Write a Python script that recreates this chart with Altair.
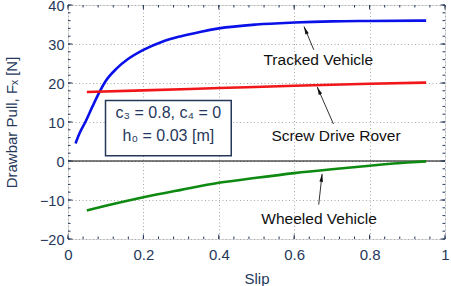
import math
import altair as alt
import pandas as pd

# ---- data -------------------------------------------------------------
slip_tracked = [0.02, 0.03, 0.046, 0.065, 0.084, 0.1, 0.13, 0.16, 0.2, 0.25,
                0.3, 0.35, 0.4, 0.5, 0.6, 0.7, 0.8, 0.95]
pull_tracked = [4.5, 7.0, 10.0, 14.0, 17.8, 20.5, 23.8, 26.2, 28.5, 30.6,
                32.0, 33.1, 34.0, 35.0, 35.5, 35.8, 35.9, 36.0]

slip_screw = [0.05, 0.2, 0.4, 0.6, 0.8, 0.95]
pull_screw = [17.7, 18.1, 18.7, 19.3, 19.8, 20.1]

slip_wheeled = [0.05, 0.1, 0.2, 0.3, 0.4, 0.5, 0.6, 0.7, 0.8, 0.9, 0.95]
pull_wheeled = [-12.7, -11.5, -9.3, -7.4, -5.6, -4.3, -3.1, -2.1, -1.2, -0.4, -0.1]

x_major = [0, 0.2, 0.4, 0.6, 0.8, 1.0]
x_minor = [round(i * 0.04, 2) for i in range(26)]
y_major = [-20, -10, 0, 10, 20, 30, 40]
y_minor = list(range(-20, 41, 2))

# annotation labels, their text anchor and arrow (tail -> tip)
ann_text = ["Tracked Vehicle", "Screw Drive Rover", "Wheeled Vehicle"]
ann_x = [0.664, 0.711, 0.666]
ann_y = [26.0, 6.3, -14.8]
arrow_x0 = [0.652, 0.704, 0.665]
arrow_y0 = [28.5, 9.5, -11.2]
arrow_x1 = [0.626, 0.661, 0.674]
arrow_y1 = [34.5, 19.0, -3.3]

# parameter box
box_x = [0.0995, 0.433]
box_y = [1.35, 15.5]
box_lines = ["c\u2083 = 0.8, c\u2084 = 0", "h\u2080 = 0.03 [m]"]
box_line_y = [12.2, 6.3]

# ---- layout / style ---------------------------------------------------
W, H = 377, 234
X_DOM = [0, 1]
Y_DOM = [-20, 40]
NAVY = "#26385a"
FONT = "Liberation Sans"

xs = alt.Scale(domain=X_DOM, nice=False, zero=False)
ys = alt.Scale(domain=Y_DOM, nice=False, zero=False)

x_axis = alt.Axis(
    values=x_major, format="~g", grid=True, gridDash=[1, 2.5], gridColor="#a8a8a8",
    gridWidth=1, ticks=False, domain=False, labelFlush=False, labelOverlap=False,
    labelFont=FONT, labelFontSize=15, labelColor=NAVY, labelPadding=8,
    title="Slip", titleFont=FONT, titleFontSize=15, titleFontWeight="normal",
    titleColor=NAVY, titleY=44, titleBaseline="alphabetic",
)
y_axis = alt.Axis(
    values=y_major, labelExpr="replace(format(datum.value, 'd'), '-', '\u2013')",
    grid=True, gridDash=[1, 2.5], gridColor="#a8a8a8",
    gridWidth=1, ticks=False, domain=False, labelFlush=False, labelOverlap=False,
    labelFont=FONT, labelFontSize=14.5, labelColor=NAVY, labelPadding=4,
    labelOffset=1.5,
    title="Drawbar Pull, F\u2093 [N]", titleFont=FONT, titleFontSize=15,
    titleFontWeight="normal", titleColor=NAVY, titleAngle=270,
    titleX=-52, titleY=H / 2, titleAlign="center", titleBaseline="alphabetic",
)


# every layer carries the same axis definition so the merged axes agree
def X(field):
    return alt.X(field, scale=xs, axis=x_axis)


def Y(field):
    return alt.Y(field, scale=ys, axis=y_axis)


curves = pd.DataFrame(
    [dict(s=s, f=f, name="Tracked") for s, f in zip(slip_tracked, pull_tracked)]
    + [dict(s=s, f=f, name="Screw") for s, f in zip(slip_screw, pull_screw)]
    + [dict(s=s, f=f, name="Wheeled") for s, f in zip(slip_wheeled, pull_wheeled)]
)

base = alt.Chart(curves)

frame_axes = base.mark_point(opacity=0).encode(x=X("s:Q"), y=Y("f:Q"))

zero_line = alt.Chart(pd.DataFrame({"f": [0]})).mark_rule(
    color="#000000", strokeWidth=1.1
).encode(y=Y("f:Q"))

lines = base.mark_line(strokeWidth=2.6, interpolate="monotone").encode(
    x=X("s:Q"),
    y=Y("f:Q"),
    color=alt.Color(
        "name:N",
        scale=alt.Scale(domain=["Tracked", "Screw", "Wheeled"],
                        range=["#0a10e8", "#f0161a", "#0e8a12"]),
        legend=None,
    ),
    detail="name:N",
)

box_df = pd.DataFrame({"x0": [box_x[0]], "x1": [box_x[1]],
                       "y0": [box_y[0]], "y1": [box_y[1]]})
box = alt.Chart(box_df).mark_rect(
    fill="white", stroke=NAVY, strokeWidth=1.5
).encode(x=X("x0:Q"), x2="x1:Q", y=Y("y0:Q"), y2="y1:Q")

box_text_df = pd.DataFrame({"t": box_lines, "y": box_line_y,
                            "x": [(box_x[0] + box_x[1]) / 2] * 2})
box_text = alt.Chart(box_text_df).mark_text(
    font=FONT, fontSize=16, color=NAVY, align="center", baseline="middle"
).encode(x=X("x:Q"), y=Y("y:Q"), text="t:N")

# arrow heads rotated along the stem direction (screen space)
px_per_x = W / (X_DOM[1] - X_DOM[0])
px_per_y = H / (Y_DOM[1] - Y_DOM[0])
angles = []
for a, b, c, d in zip(arrow_x0, arrow_y0, arrow_x1, arrow_y1):
    dx = (c - a) * px_per_x
    dy = -(d - b) * px_per_y
    angles.append(math.degrees(math.atan2(dx, -dy)) % 360)

arrow_df = pd.DataFrame({"x0": arrow_x0, "y0": arrow_y0,
                         "x1": arrow_x1, "y1": arrow_y1, "ang": angles})
stems = alt.Chart(arrow_df).mark_rule(color="#333333", strokeWidth=1).encode(
    x=X("x0:Q"), y=Y("y0:Q"), x2="x1:Q", y2="y1:Q"
)
heads = alt.Chart(arrow_df).mark_point(
    shape="M0,0L0.45,2L-0.45,2Z", filled=True, color="#111111", size=64, opacity=1
).encode(
    x=X("x1:Q"), y=Y("y1:Q"),
    angle=alt.Angle("ang:Q", scale=None),
)

ann_df = pd.DataFrame({"t": ann_text, "x": ann_x, "y": ann_y})
ann = alt.Chart(ann_df).mark_text(
    font=FONT, fontSize=15.5, color="#111111", align="center", baseline="middle"
).encode(x=X("x:Q"), y=Y("y:Q"), text="t:N")


# inward tick marks on all four sides
def xticks(vals, length):
    d = alt.Chart(pd.DataFrame({"v": vals}))
    bottom = d.mark_rule(color=NAVY, strokeWidth=1).encode(
        x=X("v:Q"), y=alt.value(H), y2=alt.value(H - length))
    top = d.mark_rule(color=NAVY, strokeWidth=1).encode(
        x=X("v:Q"), y=alt.value(0), y2=alt.value(length))
    return [bottom, top]


def yticks(vals, length):
    d = alt.Chart(pd.DataFrame({"v": vals}))
    left = d.mark_rule(color=NAVY, strokeWidth=1).encode(
        y=Y("v:Q"), x=alt.value(0), x2=alt.value(length))
    right = d.mark_rule(color=NAVY, strokeWidth=1).encode(
        y=Y("v:Q"), x=alt.value(W), x2=alt.value(W - length))
    return [left, right]


tick_layers = (xticks(x_minor, 2.5) + xticks(x_major, 4.5)
               + yticks(y_minor, 2.5) + yticks(y_major, 4.5))

chart = alt.layer(
    frame_axes, zero_line, box, box_text, lines, stems, heads, ann, *tick_layers
).properties(
    width=W, height=H,
    autosize=alt.AutoSizeParams(type="none"),
    padding={"left": 68, "top": 5, "right": 6, "bottom": 47},
).configure_view(
    stroke=NAVY, strokeWidth=1.6
).configure(background="white")

chart.save("out.html", embed_options={"renderer": "svg", "actions": False})
